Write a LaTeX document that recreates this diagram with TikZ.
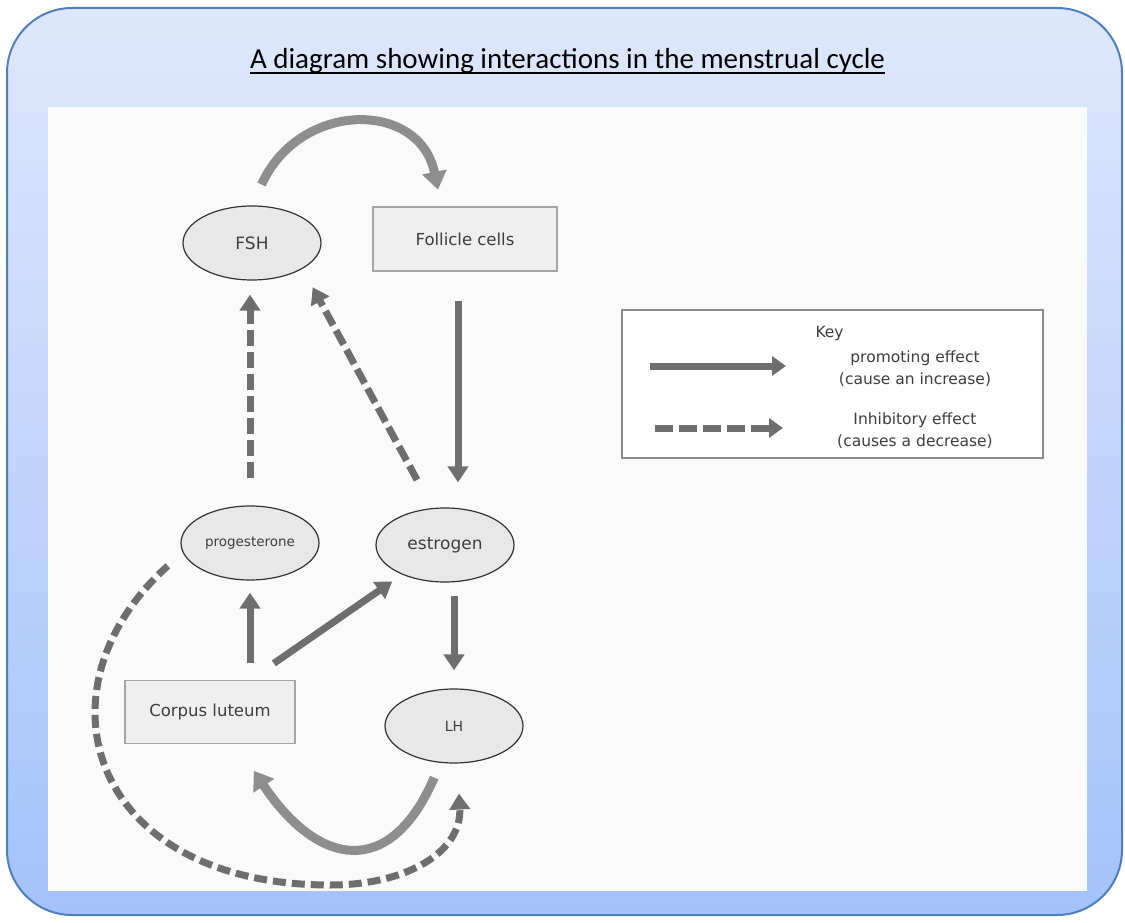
\documentclass[tikz,border=0pt]{standalone}
\usepackage{fontspec}
\setmainfont{DejaVu Sans}
\newfontfamily\titlefont{Carlito}
\usepackage{tikz}
\usetikzlibrary{shapes.geometric,calc,arrows.meta}

\definecolor{frameblue}{HTML}{4F7FBE}
\definecolor{topblue}{HTML}{DEE8FC}
\definecolor{botblue}{HTML}{A4C2FA}
\definecolor{arrowgray}{HTML}{6E6E6E}
\definecolor{curvegray}{HTML}{8E8E8E}
\definecolor{nodegray}{HTML}{E8E8E8}
\definecolor{boxgray}{HTML}{EFEFEF}
\definecolor{textgray}{HTML}{3E3E3E}

\begin{document}
\begin{tikzpicture}[
    x=1pt, y=-1pt,
    hormone/.style={ellipse, draw=black!80, line width=1.2pt, fill=nodegray, minimum width=138pt, minimum height=74pt, inner sep=0pt, text=textgray, font=\fontsize{17}{20}\selectfont},
    tissue/.style={rectangle, draw=black!35, line width=1.3pt, fill=boxgray, inner sep=0pt, text=textgray, font=\fontsize{16.5}{19}\selectfont},
    promote/.style={draw=arrowgray, line width=7pt, -{Triangle[length=16pt, width=20pt]}},
    inhibit/.style={promote, dash pattern=on 16pt off 6pt},
    bendarrow/.style={draw=curvegray, line width=9pt, -{Triangle[length=18pt, width=24pt]}},
    keytext/.style={text=textgray, align=center, font=\fontsize{15.5}{22}\selectfont}
]

% Frame and panel
\useasboundingbox (0,0) rectangle (1125,923);
\path[top color=topblue, bottom color=botblue, draw=frameblue, line width=2pt, rounded corners=65pt] (7,8) rectangle (1122,915);
\fill[black!2] (48,107) rectangle (1087,891);

% Title
\node[anchor=base, inner sep=0pt, font=\titlefont\fontsize{29}{34}\selectfont] (title) at (567.5,69) {A diagram showing interactions in the menstrual cycle};
\draw[line width=2pt] ([yshift=-4pt]title.base west) -- ([yshift=-4pt]title.base east);

% Define node positions
\node[hormone] (FSH) at (252, 243) {FSH};
\node[tissue, minimum width=184pt, minimum height=64pt] (FC) at (465, 239) {Follicle cells};
\node[hormone, font=\fontsize{13.5}{16}\selectfont] (prog) at (250, 543) {progesterone};
\node[hormone] (est) at (445, 545) {estrogen};
\node[tissue, minimum width=170pt, minimum height=63pt] (CL) at (210, 712) {Corpus luteum};
\node[hormone, font=\fontsize{14}{16}\selectfont] (LH) at (454, 726) {LH};

% Promoting effects
\draw[bendarrow, shorten <=23pt, shorten >=17pt] (FSH.north) .. controls (300,100) and (420,100) .. (FC.126);
\draw[promote, shorten <=29pt, shorten >=25pt] ([xshift=-7pt]FC.south) -- ([xshift=-7pt]FC.south |- est.north);
\draw[promote, shorten <=17pt, shorten >=12pt] (CL.north -| prog) -- (prog.south);
\draw[promote, shorten <=29pt, shorten >=12pt] (CL.north -| prog) -- (est);
\draw[promote, shorten <=13pt, shorten >=18pt] (LH.north |- est.south) -- (LH.north);
\draw[bendarrow, shorten <=16pt, shorten >=32pt] (LH.250) .. controls (390,880) and (318,867) .. (CL.-51);

% Inhibitory effects
\draw[inhibit, shorten <=27pt, shorten >=14pt] (prog.north) -- (prog.north |- FSH.south);
\draw[inhibit, shorten <=32pt, shorten >=21pt] (est.109) -- (FSH.-27);
\draw[inhibit, dash pattern=on 13pt off 6pt, shorten <=20pt, shorten >=30pt] (prog.188) .. controls (30,690) and (90,885) .. (330,885) .. controls (410,885) and (462,850) .. (LH.-85);

% Key
\node[draw=black!45, line width=1.5pt, fill=white, minimum width=421pt, minimum height=148pt, inner sep=0pt] (key) at (832.5, 384) {};
\node[keytext, anchor=west] (keyhead) at (812, 333) {Key};
\coordinate (promoA) at (650, 366);
\coordinate (promoB) at (786, 366);
\coordinate (inhibA) at (655, 428);
\coordinate (inhibB) at (783, 428);
\draw[promote, -{Triangle[length=14pt, width=19pt]}] (promoA) -- (promoB);
\draw[inhibit, dash pattern=on 18pt off 6pt, -{Triangle[length=14pt, width=19pt]}] (inhibA) -- (inhibB);
\node[keytext] (promotext) at (915, 369) {promoting effect\\(cause an increase)};
\node[keytext] (inhibtext) at (915, 431) {Inhibitory effect\\(causes a decrease)};

\end{tikzpicture}
\end{document}
